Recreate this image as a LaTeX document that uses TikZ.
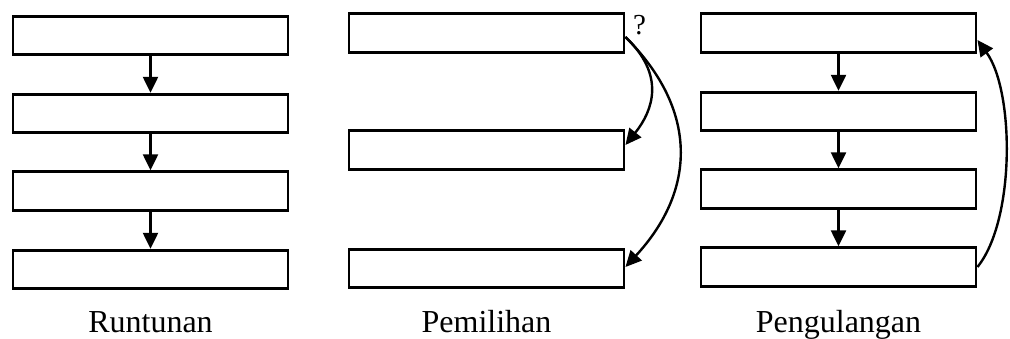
\documentclass[tikz,border=0pt]{standalone}
\usepackage{fontspec}
\setmainfont{Liberation Serif}
\usetikzlibrary{arrows.meta}
\begin{document}
\begin{tikzpicture}[x=1pt,y=-1pt,
  box/.style={draw,line width=2.9pt,minimum width=275pt,minimum height=38.5pt,inner sep=0pt},
  conn/.style={line width=2.4pt,-{Triangle[length=16pt,width=15pt]}},
  lbl/.style={anchor=base,font=\fontsize{32}{36}\selectfont}]
\useasboundingbox (0,0) rectangle (1010,339);
% Runtunan
\node[box] (l1) at (150.5,35.5) {};
\node[box] (l2) at (150.5,113.5) {};
\node[box] (l3) at (150.5,191) {};
\node[box] (l4) at (150.5,269.5) {};
\draw[conn] (l1) -- (l2);
\draw[conn] (l2) -- (l3);
\draw[conn] (l3) -- (l4);
\node[lbl] (lt) at (150.5,333) {Runtunan};
% Pemilihan
\node[box] (p1) at (486.5,33) {};
\node[box] (p2) at (486.5,150) {};
\node[box] (p3) at (486.5,268.5) {};
\node[anchor=base,font=\fontsize{29}{32}\selectfont,inner sep=0pt] (q) at (639.5,35) {?};
\draw[conn] ([yshift=-4pt]p1.east) .. controls +(40,38) and +(28,-35) .. ([yshift=5pt]p2.east);
\draw[conn] ([yshift=-4pt]p1.east) .. controls +(73,73) and +(71,-77) .. ([yshift=1.5pt]p3.east);
\node[lbl] (pt) at (486.5,333) {Pemilihan};
% Pengulangan
\node[box] (r1) at (838.5,33) {};
\node[box] (r2) at (838.5,111.5) {};
\node[box] (r3) at (838.5,189) {};
\node[box] (r4) at (838.5,267) {};
\draw[conn] (r1) -- (r2);
\draw[conn] (r2) -- (r3);
\draw[conn] (r3) -- (r4);
\draw[conn] (r4.east) .. controls +(38,-47) and +(37,51) .. ([yshift=-7pt]r1.east);
\node[lbl] (rt) at (838.5,333) {Pengulangan};
\end{tikzpicture}
\end{document}
